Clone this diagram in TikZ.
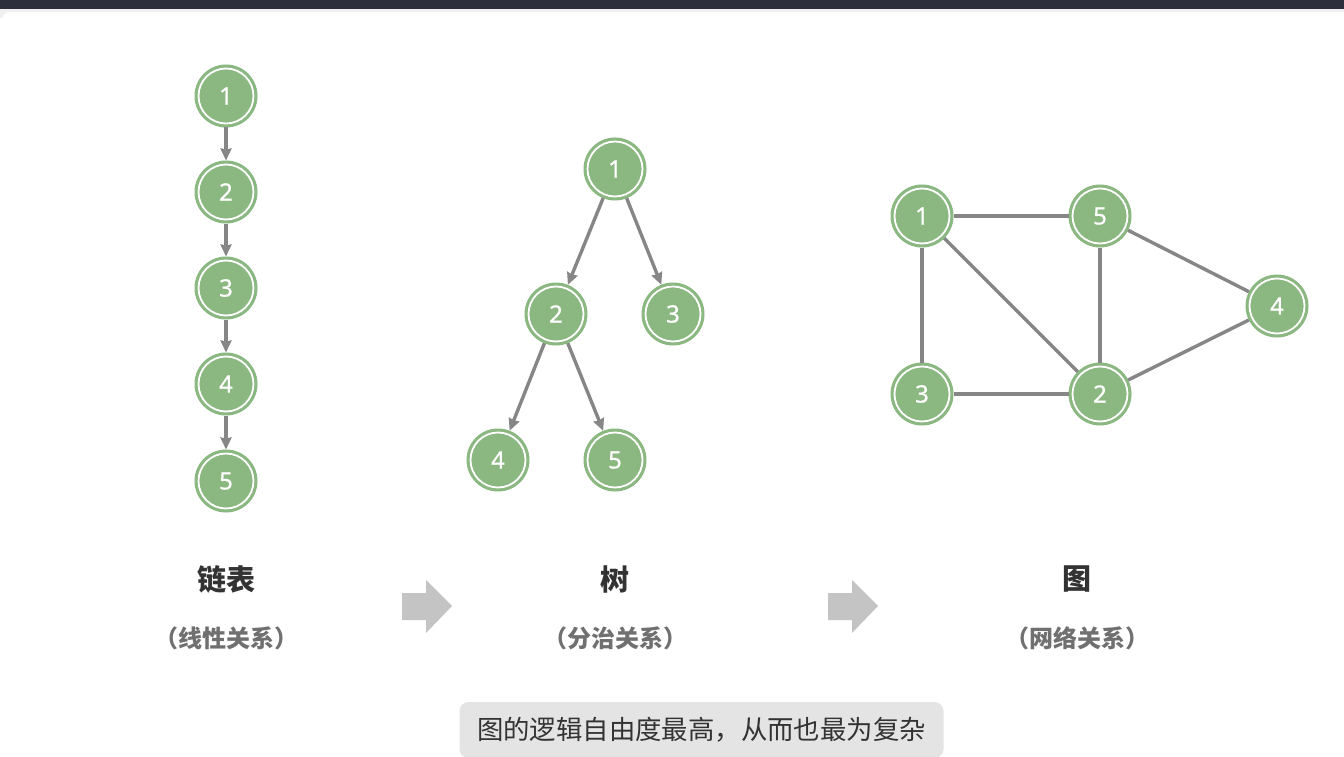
\documentclass[tikz,border=0pt]{standalone}
\usepackage{fontspec}
\newfontfamily\cjk{Noto Sans CJK SC}
\newfontfamily\numfont[FakeBold=0.8]{Noto Sans}
\usetikzlibrary{arrows.meta}
\definecolor{nodegreen}{HTML}{8BB881}
\definecolor{edgegray}{HTML}{868686}
\definecolor{topbar}{HTML}{2D2F3C}
\definecolor{titlegray}{HTML}{333333}
\definecolor{subgray}{HTML}{707070}
\definecolor{boxgray}{HTML}{E4E4E4}
\definecolor{arrowgray}{HTML}{C4C4C4}
\tikzset{
  vnode/.style={circle,fill=nodegreen,draw=nodegreen,line width=1pt,minimum size=62pt,inner sep=0pt,
    font=\numfont\fontsize{24}{24}\selectfont,text=white},
  ring/.style={circle,draw=white,line width=1.8pt,minimum size=55pt,inner sep=0pt},
  dedge/.style={edgegray,line width=3.4pt,-{Stealth[length=12pt,width=11pt,inset=1pt]}},
  uedge/.style={edgegray,line width=3.4pt},
  title/.style={font=\cjk\bfseries\fontsize{29}{29}\selectfont,text=titlegray},
  sub/.style={font=\cjk\bfseries\fontsize{24}{24}\selectfont,text=subgray},
  blockarrow/.style={fill=arrowgray,draw=none}
}
\newcommand{\vn}[3]{\node[vnode] (#1) at (#2) {#3};\node[ring] at (#2) {};}
\begin{document}
\begin{tikzpicture}[x=1pt,y=-1pt]
\useasboundingbox (0,0) rectangle (1344,757);
\fill[white] (0,0) rectangle (1344,757);
% top bar and card shadow
\fill[topbar] (0,0) rectangle (1344,9);
\fill[black!6] (0,9) rectangle (1344,18);
\fill[white, rounded corners=8pt] (2,12) rectangle (1360,770);
% linked list
\vn{a1}{226,96}{1}
\vn{a2}{226,192}{2}
\vn{a3}{226,288}{3}
\vn{a4}{226,384}{4}
\vn{a5}{226,481}{5}
\draw[dedge] (a1) -- (a2);
\draw[dedge] (a2) -- (a3);
\draw[dedge] (a3) -- (a4);
\draw[dedge] (a4) -- (a5);
% tree
\vn{t1}{615,169}{1}
\vn{t2}{556,314}{2}
\vn{t3}{673,314}{3}
\vn{t4}{498,460}{4}
\vn{t5}{615,460}{5}
\draw[dedge] (t1) -- (t2);
\draw[dedge] (t1) -- (t3);
\draw[dedge] (t2) -- (t4);
\draw[dedge] (t2) -- (t5);
% graph
\vn{g1}{922,216}{1}
\vn{g5}{1100,216}{5}
\vn{g4}{1277,306}{4}
\vn{g3}{922,394}{3}
\vn{g2}{1100,394}{2}
\draw[uedge] (g1) -- (g5);
\draw[uedge] (g1) -- (g3);
\draw[uedge] (g1) -- (g2);
\draw[uedge] (g5) -- (g2);
\draw[uedge] (g5) -- (g4);
\draw[uedge] (g3) -- (g2);
\draw[uedge] (g2) -- (g4);
% labels
\node[title] (l1) at (226,579) {链表};
\node[sub] (s1) at (226,638) {（线性关系）};
\node[title] (l2) at (615,579) {树};
\node[sub] (s2) at (615,638) {（分治关系）};
\node[title] (l3) at (1077,579) {图};
\node[sub] (s3) at (1077,638) {（网络关系）};
% block arrows
\fill[blockarrow] (402,593) -- (426,593) -- (426,580) -- (452,606) -- (426,633) -- (426,620) -- (402,620) -- cycle;
\fill[blockarrow] (828,593) -- (852,593) -- (852,580) -- (878,606) -- (852,633) -- (852,620) -- (828,620) -- cycle;
% bottom note
\node[fill=boxgray,rounded corners=9pt,minimum width=484pt,minimum height=56pt,inner sep=0pt,
  font=\cjk\fontsize{26.4}{26.4}\selectfont,text=titlegray] (note) at (701.5,730) {图的逻辑自由度最高，从而也最为复杂};
\end{tikzpicture}
\end{document}
